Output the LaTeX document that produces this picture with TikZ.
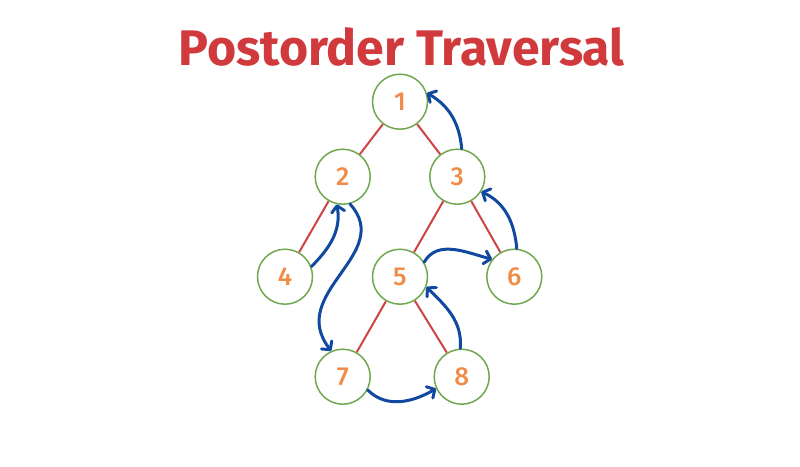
\documentclass[tikz,border=0pt]{standalone}
\usepackage{fontspec}
\setmainfont{Fira Sans}
\newfontfamily\titlefont{Fira Sans Bold}
\newfontfamily\digitfont{Fira Sans Medium}
\usetikzlibrary{arrows.meta}
\definecolor{titlered}{HTML}{D13A3C}
\definecolor{digitorange}{HTML}{F08C48}
\definecolor{ringgreen}{HTML}{6FA84E}
\definecolor{edgered}{HTML}{CF4343}
\definecolor{arrowblue}{HTML}{1148A0}
\tikzset{
  tnode/.style={circle, draw=ringgreen, line width=1.5pt, minimum size=55pt, inner sep=0pt,
    text=digitorange, font=\digitfont\fontsize{26}{26}\selectfont},
  tedge/.style={draw=edgered, line width=2pt},
  visit/.style={draw=arrowblue, line width=3pt, line cap=round, line join=round,
    -{Straight Barb[length=6pt,width=13pt,line cap=round,line join=round]}},
}
\begin{document}
\begin{tikzpicture}[x=1pt,y=1pt]
\useasboundingbox (0,0) rectangle (800,-466);
\node[anchor=base, text=titlered, font=\titlefont\fontsize{50}{50}\selectfont, inner sep=0pt] (title) at (401.7,-65) {Postorder Traversal};
\node[tnode] (n1) at (400,-101.7) {1};
\node[tnode] (n2) at (342.7,-176.7) {2};
\node[tnode] (n3) at (457.3,-176.7) {3};
\node[tnode] (n4) at (285,-276.7) {4};
\node[tnode] (n5) at (400,-276.7) {5};
\node[tnode] (n6) at (514.3,-276.7) {6};
\node[tnode] (n7) at (342.7,-376.7) {7};
\node[tnode] (n8) at (461.7,-376.7) {8};
\draw[tedge] (n1) -- (n2);
\draw[tedge] (n1) -- (n3);
\draw[tedge] (n2) -- (n4);
\draw[tedge] (n3) -- (n5);
\draw[tedge] (n3) -- (n6);
\draw[tedge] (n5) -- (n7);
\draw[tedge] (n5) -- (n8);
\draw[visit] (n4.21) to[out=45, in=-80] (n2.-102);
\draw[visit] (n2.-75) .. controls +(45,-50) and +(-45,58) .. (n7.114);
\draw[visit] (n7.-28) to[out=-45, in=-150] (n8.-155);
\draw[visit] (n8.93) to[out=85, in=-45] (n5.-21);
\draw[visit] (n5.31) to[out=60, in=165] (n6.142);
\draw[visit] (n6.85) to[out=95, in=-25] (n3.-32);
\draw[visit] (n3.81) to[out=95, in=-30] (n1.18);
\end{tikzpicture}
\end{document}
